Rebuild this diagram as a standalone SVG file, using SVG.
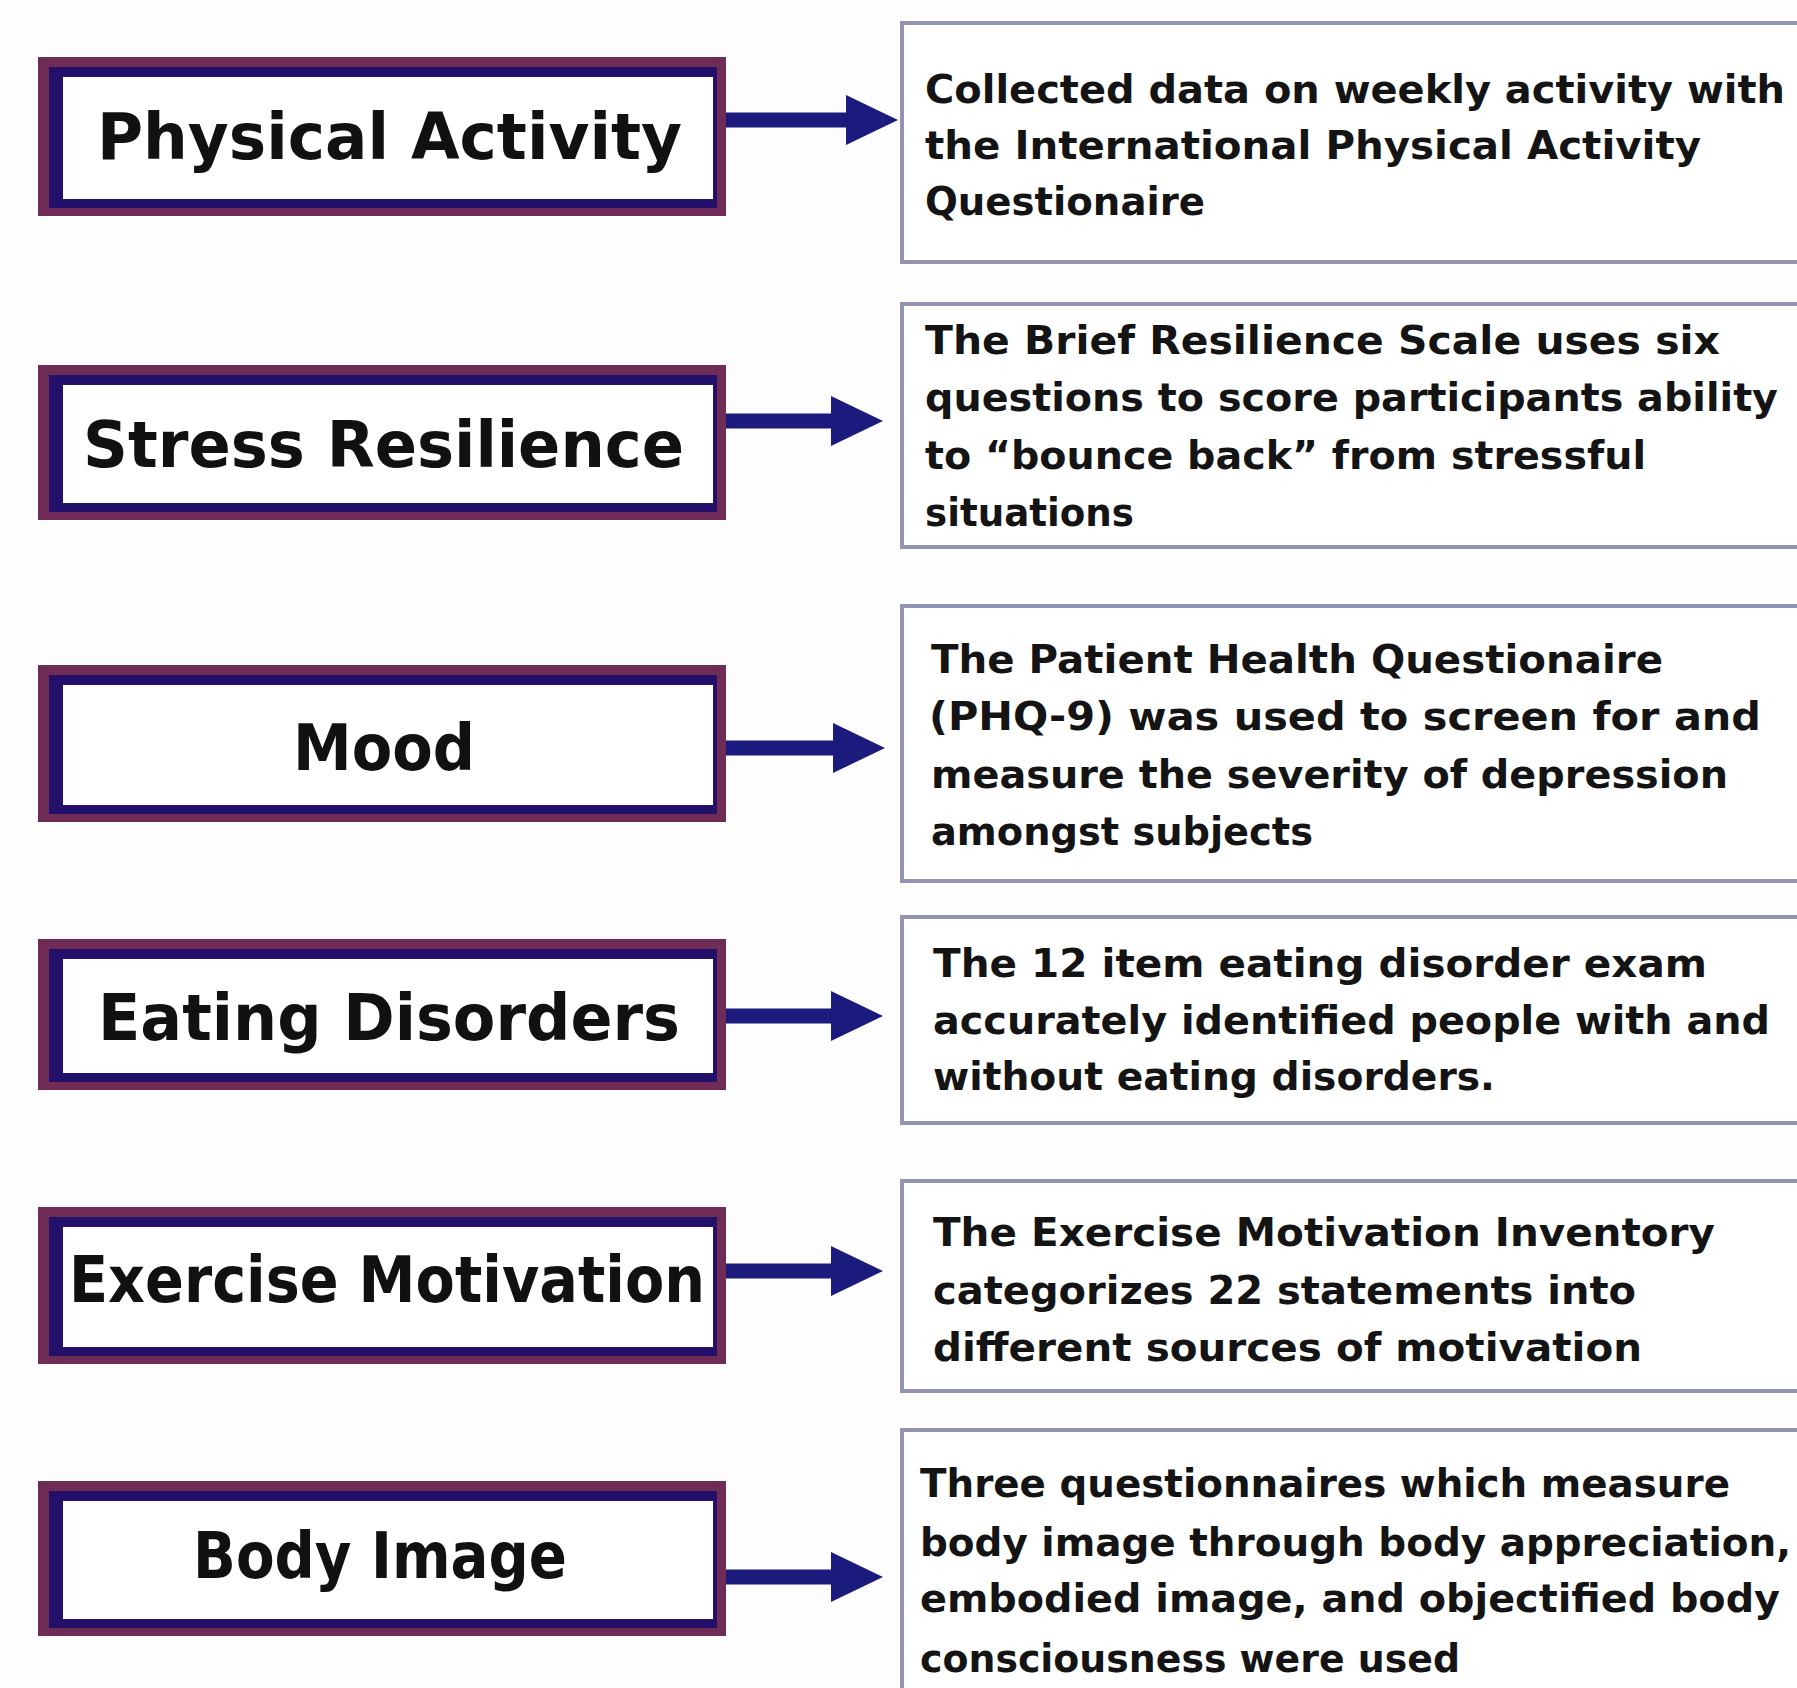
<svg xmlns="http://www.w3.org/2000/svg" width="1797" height="1688" viewBox="0 0 1797 1688">
  <defs>
    <style>
      .bg{fill:#fdfdfd}
      .outer{fill:#6e2c56}
      .mid{fill:#22106a}
      .inner{fill:#ffffff}
      .label{font-family:"DejaVu Sans","Liberation Sans",sans-serif;font-weight:bold;font-size:64px;fill:#111}
      .desc-box{fill:#ffffff;stroke:#9393b2;stroke-width:4}
      .desc{font-family:"DejaVu Sans","Liberation Sans",sans-serif;font-weight:bold;font-size:39px;fill:#141414}
      .conn{stroke:#1b1a7d;stroke-width:15;fill:none}
    </style>
    <marker id="head" markerUnits="userSpaceOnUse" markerWidth="52" markerHeight="50" refX="2" refY="25" orient="auto">
      <path d="M0,0 L52,25 L0,50 Z" fill="#1b1a7d"/>
    </marker>
  </defs>
  <rect class="bg" x="0" y="0" width="1797" height="1688"/>

  <!-- Left nodes -->
  <g id="node-physical-activity">
    <rect class="outer" x="38" y="57" width="688" height="159"/>
    <rect class="mid" x="49" y="67" width="668" height="141"/>
    <rect class="inner" x="63" y="77" width="650" height="122"/>
    <text class="label" x="97" y="159" textLength="585" lengthAdjust="spacingAndGlyphs">Physical Activity</text>
  </g>
  <g id="node-stress-resilience">
    <rect class="outer" x="38" y="365" width="688" height="155"/>
    <rect class="mid" x="49" y="375" width="668" height="137"/>
    <rect class="inner" x="63" y="385" width="650" height="118"/>
    <text class="label" x="83" y="467" textLength="601" lengthAdjust="spacingAndGlyphs">Stress Resilience</text>
  </g>
  <g id="node-mood">
    <rect class="outer" x="38" y="665" width="688" height="157"/>
    <rect class="mid" x="49" y="675" width="668" height="139"/>
    <rect class="inner" x="63" y="685" width="650" height="120"/>
    <text class="label" x="293" y="770" textLength="182" lengthAdjust="spacingAndGlyphs">Mood</text>
  </g>
  <g id="node-eating-disorders">
    <rect class="outer" x="38" y="939" width="688" height="151"/>
    <rect class="mid" x="49" y="949" width="668" height="133"/>
    <rect class="inner" x="63" y="959" width="650" height="114"/>
    <text class="label" x="98" y="1040" textLength="582" lengthAdjust="spacingAndGlyphs">Eating Disorders</text>
  </g>
  <g id="node-exercise-motivation">
    <rect class="outer" x="38" y="1207" width="688" height="157"/>
    <rect class="mid" x="49" y="1217" width="668" height="139"/>
    <rect class="inner" x="63" y="1227" width="650" height="120"/>
    <text class="label" x="69" y="1302" textLength="636" lengthAdjust="spacingAndGlyphs">Exercise Motivation</text>
  </g>
  <g id="node-body-image">
    <rect class="outer" x="38" y="1481" width="688" height="155"/>
    <rect class="mid" x="49" y="1491" width="668" height="137"/>
    <rect class="inner" x="63" y="1501" width="650" height="118"/>
    <text class="label" x="193" y="1578" textLength="374" lengthAdjust="spacingAndGlyphs">Body Image</text>
  </g>

  <!-- Right description nodes -->
  <g id="desc-physical-activity">
    <rect class="desc-box" x="902" y="23" width="905" height="239"/>
    <text class="desc" x="925" y="103" textLength="860" lengthAdjust="spacingAndGlyphs">Collected data on weekly activity with</text>
    <text class="desc" x="925" y="159" textLength="776" lengthAdjust="spacingAndGlyphs">the International Physical Activity</text>
    <text class="desc" x="925" y="215" textLength="280" lengthAdjust="spacingAndGlyphs">Questionaire</text>
  </g>
  <g id="desc-stress-resilience">
    <rect class="desc-box" x="902" y="304" width="905" height="243"/>
    <text class="desc" x="925" y="354" textLength="795" lengthAdjust="spacingAndGlyphs">The Brief Resilience Scale uses six</text>
    <text class="desc" x="925" y="411" textLength="853" lengthAdjust="spacingAndGlyphs">questions to score participants ability</text>
    <text class="desc" x="925" y="469" textLength="721" lengthAdjust="spacingAndGlyphs">to “bounce back” from stressful</text>
    <text class="desc" x="925" y="526" textLength="209" lengthAdjust="spacingAndGlyphs">situations</text>
  </g>
  <g id="desc-mood">
    <rect class="desc-box" x="902" y="606" width="905" height="275"/>
    <text class="desc" x="931" y="673" textLength="732" lengthAdjust="spacingAndGlyphs">The Patient Health Questionaire</text>
    <text class="desc" x="929" y="730" textLength="832" lengthAdjust="spacingAndGlyphs">(PHQ-9) was used to screen for and</text>
    <text class="desc" x="931" y="788" textLength="797" lengthAdjust="spacingAndGlyphs">measure the severity of depression</text>
    <text class="desc" x="931" y="845" textLength="382" lengthAdjust="spacingAndGlyphs">amongst subjects</text>
  </g>
  <g id="desc-eating-disorders">
    <rect class="desc-box" x="902" y="917" width="905" height="206"/>
    <text class="desc" x="933" y="977" textLength="774" lengthAdjust="spacingAndGlyphs">The 12 item eating disorder exam</text>
    <text class="desc" x="933" y="1034" textLength="837" lengthAdjust="spacingAndGlyphs">accurately identified people with and</text>
    <text class="desc" x="933" y="1090" textLength="562" lengthAdjust="spacingAndGlyphs">without eating disorders.</text>
  </g>
  <g id="desc-exercise-motivation">
    <rect class="desc-box" x="902" y="1181" width="905" height="210"/>
    <text class="desc" x="933" y="1246" textLength="782" lengthAdjust="spacingAndGlyphs">The Exercise Motivation Inventory</text>
    <text class="desc" x="933" y="1304" textLength="703" lengthAdjust="spacingAndGlyphs">categorizes 22 statements into</text>
    <text class="desc" x="933" y="1361" textLength="709" lengthAdjust="spacingAndGlyphs">different sources of motivation</text>
  </g>
  <g id="desc-body-image">
    <rect class="desc-box" x="902" y="1430" width="905" height="280"/>
    <text class="desc" x="920" y="1497" textLength="810" lengthAdjust="spacingAndGlyphs">Three questionnaires which measure</text>
    <text class="desc" x="920" y="1556" textLength="871" lengthAdjust="spacingAndGlyphs">body image through body appreciation,</text>
    <text class="desc" x="920" y="1612" textLength="860" lengthAdjust="spacingAndGlyphs">embodied image, and objectified body</text>
    <text class="desc" x="920" y="1672" textLength="540" lengthAdjust="spacingAndGlyphs">consciousness were used</text>
  </g>

  <!-- Connectors -->
  <g id="connectors">
    <line class="conn" x1="726" y1="120" x2="848" y2="120" marker-end="url(#head)"/>
    <line class="conn" x1="726" y1="421" x2="833" y2="421" marker-end="url(#head)"/>
    <line class="conn" x1="726" y1="748" x2="835" y2="748" marker-end="url(#head)"/>
    <line class="conn" x1="726" y1="1016" x2="833" y2="1016" marker-end="url(#head)"/>
    <line class="conn" x1="726" y1="1271" x2="833" y2="1271" marker-end="url(#head)"/>
    <line class="conn" x1="726" y1="1577" x2="833" y2="1577" marker-end="url(#head)"/>
  </g>
</svg>
